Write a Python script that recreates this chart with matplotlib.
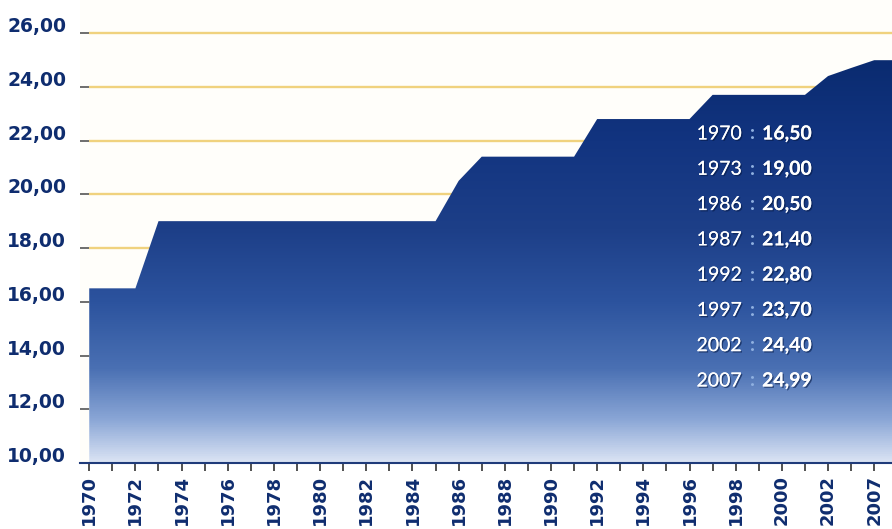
import matplotlib
matplotlib.use("Agg")
import matplotlib.pyplot as plt
import matplotlib.patheffects as pe
import numpy as np
from matplotlib.colors import LinearSegmentedColormap
from matplotlib.transforms import ScaledTranslation

# categories on the x axis (one per tick, every other one labelled)
categories = [str(y) for y in range(1970, 2003)] + ["2004", "2007"]
values = [
    16.5, 16.5, 16.5, 19.0, 19.0, 19.0, 19.0, 19.0, 19.0, 19.0,
    19.0, 19.0, 19.0, 19.0, 19.0, 19.0, 20.5, 21.4, 21.4, 21.4,
    21.4, 21.4, 22.8, 22.8, 22.8, 22.8, 22.8, 23.7, 23.7, 23.7,
    23.7, 23.7, 24.4, 24.7, 24.99,
]
y_ticks = [10, 12, 14, 16, 18, 20, 22, 24, 26]

# key-value box in the plot
legend_years = ["1970", "1973", "1986", "1987", "1992", "1997", "2002", "2007"]
legend_values = ["16,50", "19,00", "20,50", "21,40", "22,80", "23,70", "24,40", "24,99"]

NAVY = "#0f2d6f"

fig = plt.figure(figsize=(8.92, 5.29), dpi=100, facecolor="white")
ax = fig.add_axes([80 / 892, 66 / 529, 812 / 892, 463 / 529])
ax.set_facecolor("#fffefa")

x = np.arange(len(categories))
x_left, x_right = -0.4, 34.77
y_bottom, y_top = 10, 27.23
ax.set_xlim(x_left, x_right)
ax.set_ylim(y_bottom, y_top)

# grid lines behind the area
ax.hlines(y_ticks[1:], 0, x_right, colors="#f0d27e", lw=1.7, zorder=1)

# area, flat continuation to the right edge
xs = np.append(x, x_right)
ys = np.append(values, values[-1])
poly = ax.fill_between(xs, y_bottom, ys, facecolor="none", edgecolor="none", zorder=2)

# vertical gradient clipped by the area
stops = [
    (0.0, "#dbe4f4"),
    (1.6 / 17.23, "#8aa6d6"),
    (3.5 / 17.23, "#4a70b3"),
    (6.0 / 17.23, "#2c539e"),
    (8.7 / 17.23, "#1d3f88"),
    (12.0 / 17.23, "#123480"),
    (15.0 / 17.23, "#0a2b70"),
    (1.0, "#08286a"),
]
cmap = LinearSegmentedColormap.from_list("blue_grad", stops)
grad = np.linspace(0, 1, 512).reshape(-1, 1)
im = ax.imshow(grad, cmap=cmap, aspect="auto", origin="lower",
               extent=[x_left, x_right, y_bottom, y_top], zorder=3)
im.set_clip_path(poly.get_paths()[0], transform=ax.transData)

# axes styling
for side in ["top", "right", "left"]:
    ax.spines[side].set_visible(False)
ax.spines["bottom"].set_color("#1f3b7a")
ax.spines["bottom"].set_linewidth(1.5)
ax.spines["bottom"].set_zorder(5)

ax.set_xticks(x)
ax.set_xticklabels([c if i % 2 == 0 else "" for i, c in enumerate(categories)],
                   rotation=90, fontsize=13, fontweight="bold", color=NAVY,
                   family="DejaVu Sans")
ax.tick_params(axis="x", direction="out", length=6, width=1.2, color="#333333", pad=2.5)

ax.set_yticks(y_ticks)
ax.set_yticklabels([f"{v:.2f}".replace(".", ",") for v in y_ticks],
                   fontsize=13.5, fontweight="bold", color=NAVY, family="DejaVu Sans")
ax.tick_params(axis="y", direction="in", length=6.5, width=1.2, color="#555555", pad=10)
for lab in ax.get_yticklabels():
    lab.set_transform(lab.get_transform() + ScaledTranslation(0, 6 / 72, fig.dpi_scale_trans))

# key-value list
shadow = [pe.withSimplePatchShadow(offset=(1, -1), shadow_rgbFace="#061a45", alpha=0.6), pe.Normal()]
y0, dy = 0.7106, 0.0762
for i, (yr, val) in enumerate(zip(legend_years, legend_values)):
    yy = y0 - i * dy
    ax.text(0.815, yy, yr, transform=ax.transAxes, ha="right", va="center",
            fontsize=14, color="white", family="Lato", zorder=6, path_effects=shadow)
    ax.text(0.8276, yy, ":", transform=ax.transAxes, ha="center", va="center",
            fontsize=14, color="#8fb0e0", family="Lato", fontweight="bold", zorder=6)
    ax.text(0.840, yy, val, transform=ax.transAxes, ha="left", va="center",
            fontsize=14, color="white", family="Lato", fontweight="bold", zorder=6,
            path_effects=shadow)

fig.savefig("out.png", dpi=100, facecolor="white")
